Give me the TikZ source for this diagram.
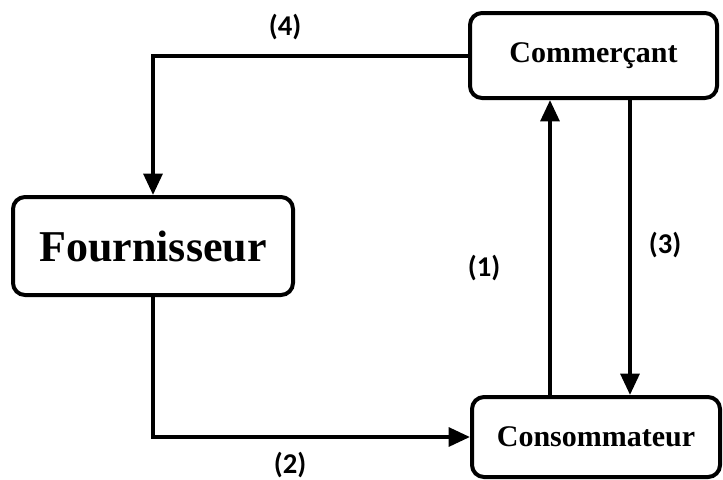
\documentclass[tikz,border=0pt]{standalone}
\usepackage{fontspec}
\setmainfont{Liberation Serif}
\newfontfamily\labfont{Carlito}
\usetikzlibrary{arrows.meta}
\begin{document}
\begin{tikzpicture}[x=0.75pt,y=-0.75pt,
  box/.style={draw=black, line width=3pt, rounded corners=9pt, fill=white, align=center, inner sep=0pt},
  conn/.style={line width=3pt, -{Triangle[length=16pt,width=14pt]}},
  lab/.style={font=\labfont\bfseries\fontsize{21.5}{24}\selectfont, inner sep=0pt}]
\useasboundingbox (0,0) rectangle (723,479);
\node[box, minimum width=185.25pt, minimum height=63.75pt, font=\bfseries\fontsize{22.5}{26}\selectfont] (com) at (593.5,55.5) {Commerçant};
\node[box, minimum width=210pt, minimum height=73.5pt, font=\bfseries\fontsize{33}{38}\selectfont] (four) at (153,246) {Fournisseur};
\node[box, minimum width=186pt, minimum height=60pt, font=\bfseries\fontsize{22.5}{26}\selectfont] (cons) at (596,437) {Consommateur};
\coordinate (x1) at (550,0);
\coordinate (x3) at (630,0);
\draw[conn] (com.west) -| (four.north);
\draw[conn] (four.south) |- (cons.west);
\draw[conn] (cons.north -| x1) -- (com.south -| x1);
\draw[conn] (com.south -| x3) -- (cons.north -| x3);
\node[lab] (l4) at (285,27) {(4)};
\node[lab] (l1) at (484,268) {(1)};
\node[lab] (l3) at (665,245) {(3)};
\node[lab] (l2) at (290,465) {(2)};
\end{tikzpicture}
\end{document}
